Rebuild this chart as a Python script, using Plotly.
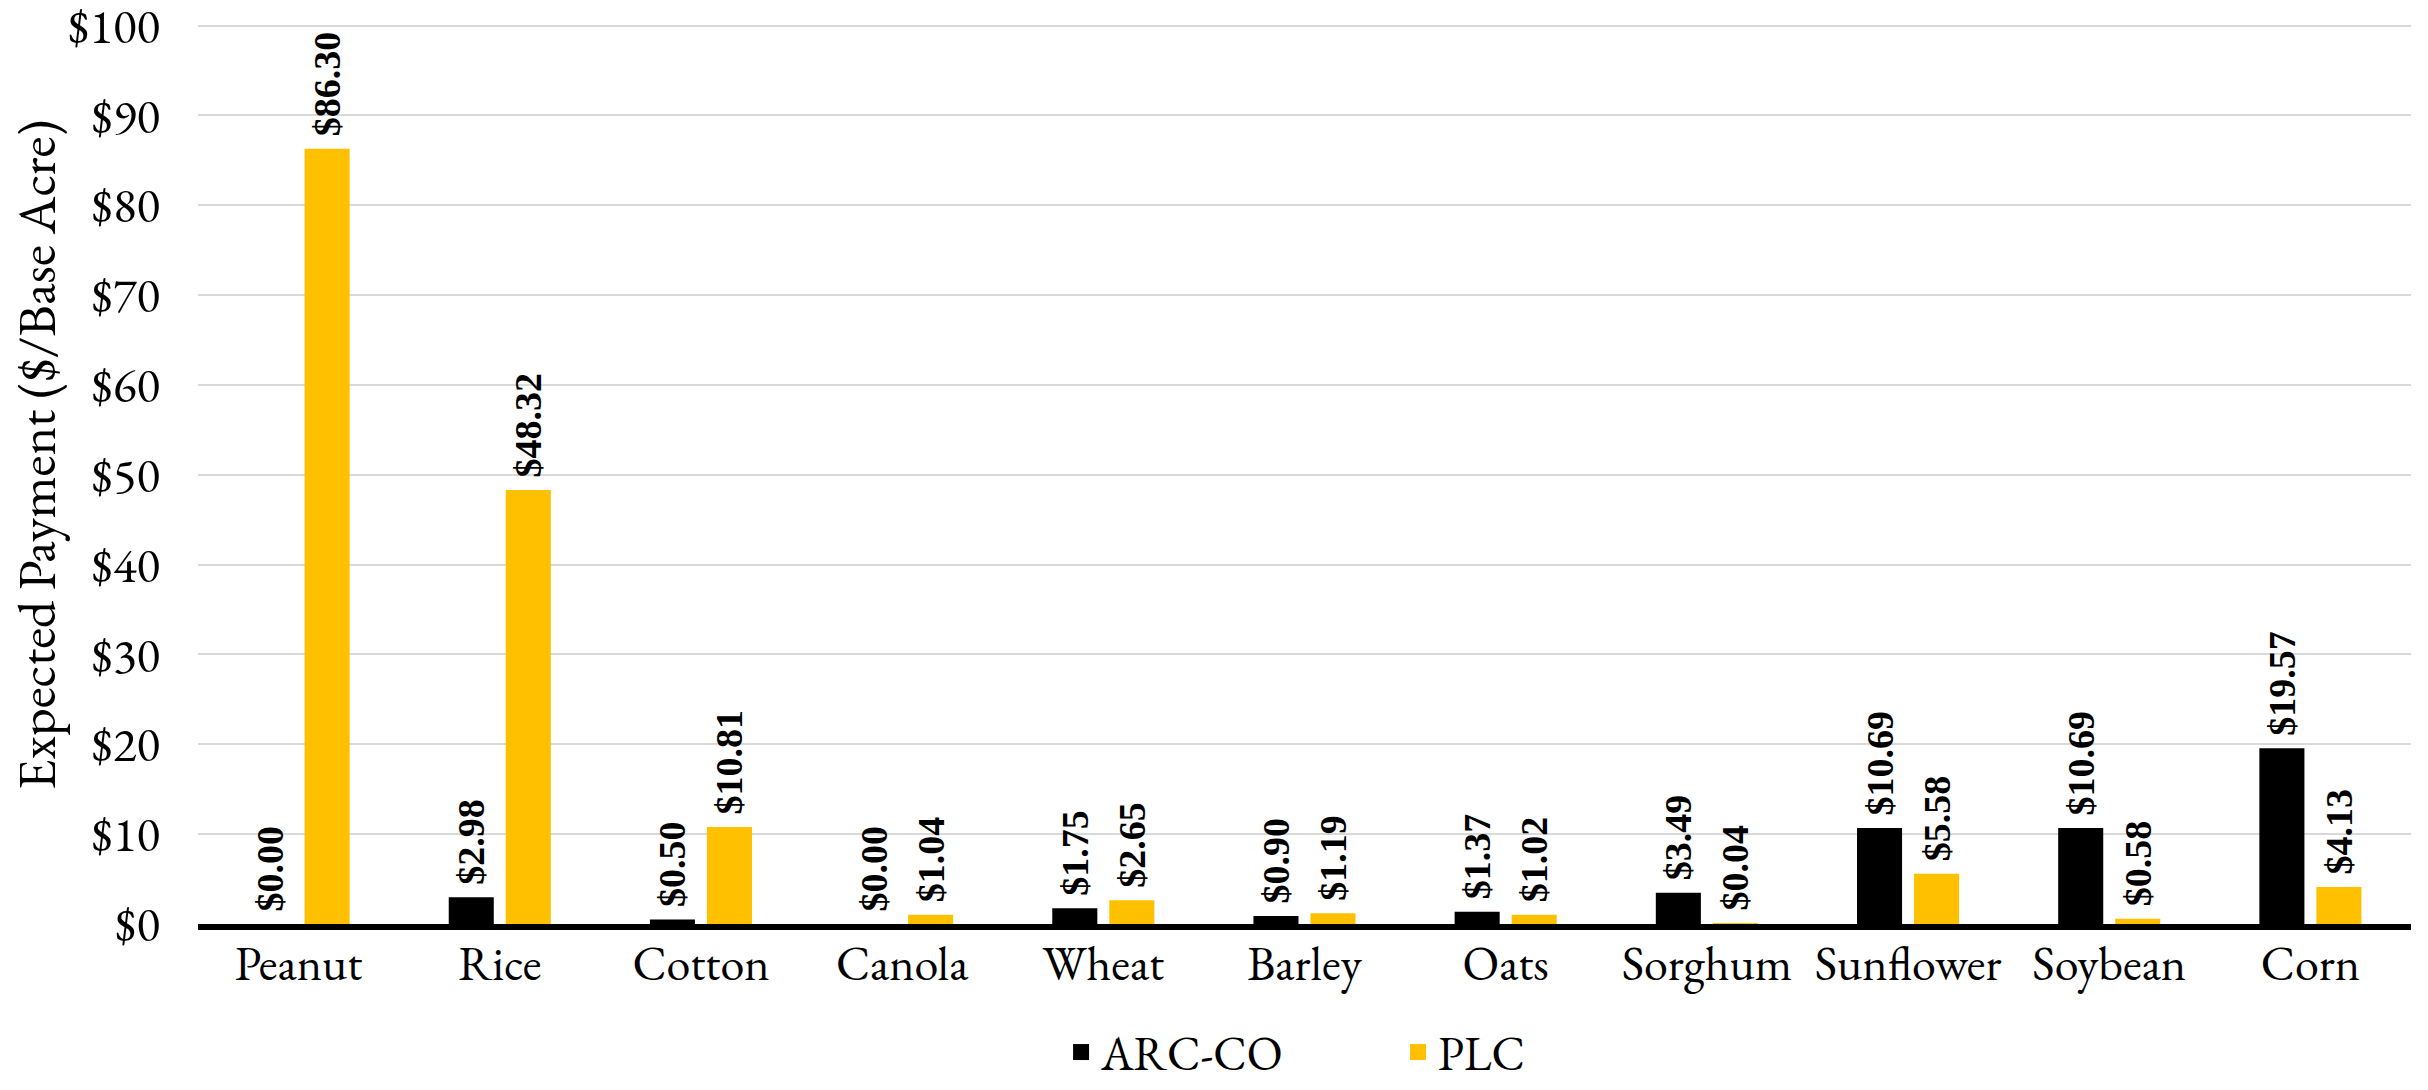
import plotly.graph_objects as go

# Expected payments by crop, $ per base acre
crops = ["Peanut", "Rice", "Cotton", "Canola", "Wheat", "Barley",
         "Oats", "Sorghum", "Sunflower", "Soybean", "Corn"]
arc_co = [0.00, 2.98, 0.50, 0.00, 1.75, 0.90, 1.37, 3.49, 10.69, 10.69, 19.57]
plc = [86.30, 48.32, 10.81, 1.04, 2.65, 1.19, 1.02, 0.04, 5.58, 0.58, 4.13]

y_ticks = list(range(0, 101, 10))
y_tick_text = [f"${v}" for v in y_ticks]

series_names = ["ARC-CO", "PLC"]
series_colors = ["#000000", "#FFC000"]

SERIF = "Garamond, 'EB Garamond', 'Liberation Serif', 'Times New Roman', serif"
LABEL_FONT = "'Liberation Serif', 'Times New Roman', serif"

fig = go.Figure()

for name, vals, color in zip(series_names, [arc_co, plc], series_colors):
    fig.add_trace(go.Bar(
        x=crops,
        y=vals,
        name=name,
        marker=dict(color=color, line=dict(width=0)),
        texttemplate="\u00a0$%{y:.2f}",
        textposition="outside",
        textangle=-90,
        constraintext="none",
        cliponaxis=False,
        textfont=dict(family=LABEL_FONT, size=38, color="#000000", weight="bold"),
        showlegend=False,
    ))

# Legend swatches
for name, color in zip(series_names, series_colors):
    fig.add_trace(go.Scatter(
        x=[None], y=[None], mode="markers", name=name,
        marker=dict(symbol="square", size=22, color=color),
        showlegend=True,
    ))

# y range padded slightly so the $100 gridline is kept at the top edge
Y_MAX = 100.4
PLOT_TOP = 26 - 0.4 * 8.97

fig.update_layout(
    width=2428,
    height=1090,
    margin=dict(l=198, r=17, t=PLOT_TOP, b=166, pad=0, autoexpand=False),
    paper_bgcolor="#ffffff",
    plot_bgcolor="#ffffff",
    barmode="group",
    bargap=0.433,
    bargroupgap=0.21,
    font=dict(family=SERIF, size=48, color="#000000"),
    showlegend=True,
    legend=dict(
        orientation="h",
        x=0.39, xanchor="left",
        xref="paper",
        yref="container",
        y=0.0, yanchor="bottom",
        font=dict(family=SERIF, size=47, color="#000000"),
        entrywidth=292,
        entrywidthmode="pixels",
        bgcolor="rgba(0,0,0,0)",
    ),
    xaxis=dict(
        type="category",
        showline=True,
        linecolor="#000000",
        linewidth=6,
        showgrid=False,
        ticks="",
        tickfont=dict(family=SERIF, size=48),
        ticklabelstandoff=-8,
    ),
    yaxis=dict(
        range=[0, Y_MAX],
        tickvals=y_ticks,
        ticktext=y_tick_text,
        showgrid=True,
        gridcolor="#d9d9d9",
        gridwidth=2,
        zeroline=False,
        showline=False,
        ticks="",
        tickfont=dict(family=SERIF, size=49),
        ticklabelstandoff=37,
        ticklabeloverflow="allow",
    ),
    annotations=[dict(
        text="Expected Payment ($/Base Acre)",
        xref="paper", yref="paper",
        x=(36 - 198) / 2213, y=0.52,
        xanchor="center", yanchor="middle",
        textangle=-90,
        showarrow=False,
        font=dict(family=SERIF, size=54, color="#000000"),
    )],
)

fig.write_html("out.html")
